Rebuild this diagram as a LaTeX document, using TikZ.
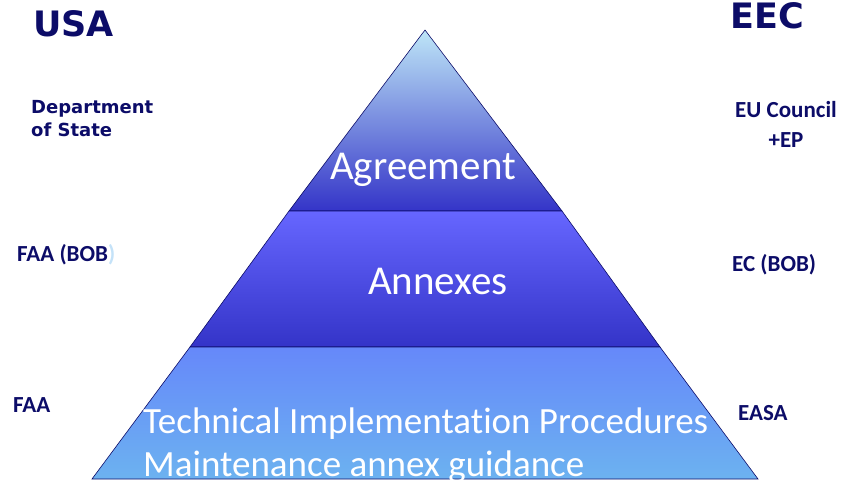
\documentclass[tikz,border=0pt]{standalone}
\usepackage{fontspec}
\setmainfont{Carlito}[Ligatures=CommonOff]
\newfontfamily\wide{DejaVu Sans}
\usetikzlibrary{positioning}
\definecolor{navy}{RGB}{12,12,104}
\definecolor{paren}{RGB}{196,226,248}
\definecolor{apexblue}{RGB}{190,230,247}
\definecolor{midblue}{RGB}{128,158,226}
\definecolor{deepblue}{RGB}{52,52,200}
\definecolor{violet}{RGB}{102,102,255}
\definecolor{baseblue}{RGB}{102,136,250}
\definecolor{skyblue}{RGB}{108,178,240}

\begin{document}
\begin{tikzpicture}[x=1pt,y=-1pt,
	side/.style={text=navy, inner sep=0pt, font=\fontsize{23}{29}\selectfont\bfseries},
	head/.style={text=navy, inner sep=0pt, font=\wide\fontsize{35}{42}\selectfont\bfseries},
	level/.style={text=white, inner sep=0pt, font=\fontsize{41}{43}\selectfont},
	tier/.style={draw=navy, line width=0.6pt}]
	\useasboundingbox (0,0) rectangle (843,484);
	
	% pyramid
	\shade[tier, top color=apexblue, middle color=midblue, bottom color=deepblue] (425,30) -- (562,211) -- (289,211) -- cycle;
	\shade[tier, top color=violet, bottom color=deepblue] (289,211) -- (562,211) -- (660,347) -- (190,347) -- cycle;
	\shade[tier, top color=baseblue, bottom color=skyblue] (190,347) -- (660,347) -- (758,479) -- (92,479) -- cycle;
	
	\node[level, anchor=base west] (agree) at (330,179) {Agreement};
	\node[level, anchor=base west] (annex) at (368,294) {Annexes};
	% base of a two-line node is its last line
	\node[level, anchor=base west, font=\fontsize{37}{43}\selectfont, align=left] (tip) at (143,476) {Technical Implementation Procedures\\Maintenance annex guidance};
	
	% USA side
	\node[head, anchor=base west] (usa) at (33,37) {USA};
	\node[head, anchor=base west, font=\wide\fontsize{18}{22}\selectfont\bfseries, align=left] (dos) at (31,136) {Department\\of State};
	\node[side, anchor=base west] (faabob) at (17,261) {FAA (BOB\textcolor{paren}{)}};
	\node[side, anchor=base west] (faa) at (13,412) {FAA};
	
	% EEC side
	\node[head, anchor=base west] (eec) at (730,29) {EEC};
	\node[side, anchor=base, align=center] (council) at (786,147) {EU Council\\+EP};
	\node[side, anchor=base west] (ecbob) at (732,271) {EC (BOB)};
	\node[side, anchor=base west] (easa) at (738,420) {EASA};
\end{tikzpicture}
\end{document}
